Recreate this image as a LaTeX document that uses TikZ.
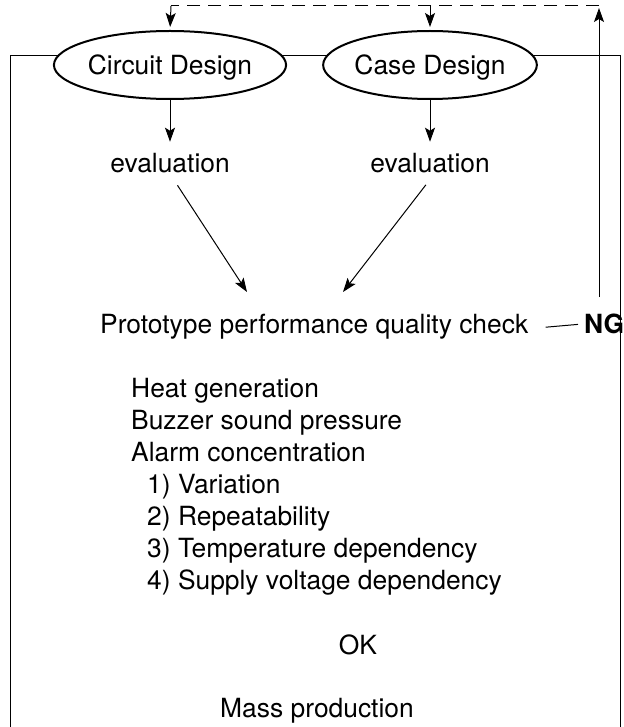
\documentclass[tikz,border=0pt]{standalone}
\usepackage{fontspec}
\setmainfont{TeX Gyre Heros}
\usetikzlibrary{arrows.meta,shapes.geometric}
\begin{document}
\begin{tikzpicture}[x=1pt,y=-1pt,
  every node/.style={font=\fontsize{26.4}{30}\selectfont},
  design/.style={draw,ellipse,line width=2pt,minimum width=204pt,minimum height=68pt,inner sep=0pt,text depth=0pt},
  txt/.style={inner sep=3.33pt},
  arr/.style={line width=1pt,-{Stealth[length=14pt,width=10pt,inset=3pt]}},
  frame/.style={line width=0.9pt},
  fb/.style={line width=1pt}]
\useasboundingbox (0,0) rectangle (623,727);
% frame
\draw[frame] (10,745) -- (10,55) -- (620,55) -- (620,745);
% design ellipses
\node[design,fill=white] (circ) at (170,65) {Circuit Design};
\node[design,fill=white] (case) at (430,65) {Case Design};
% evaluation
\node[txt,anchor=base] (ev1) at (170,173) {evaluation};
\node[txt,anchor=base] (ev2) at (430,173) {evaluation};
\draw[arr,shorten >=8.5pt] (circ.south) -- (ev1.north);
\draw[arr,shorten >=8.5pt] (case.south) -- (ev2.north);
\coordinate (m1) at (247,292);
\coordinate (m2) at (343,292);
\draw[arr,shorten <=10pt] ([xshift=2pt]ev1.south) -- (m1);
\draw[arr,shorten <=10pt] ([xshift=2pt]ev2.south) -- (m2);
% check
\node[txt,anchor=base west,inner sep=0pt] (chk) at (100,333) {Prototype performance quality check};
\node[txt,anchor=base west,inner sep=0pt] (ng) at (584,333) {\bfseries NG};
\draw[fb] ([xshift=17pt,yshift=-1pt]chk.east) -- ([xshift=-6pt,yshift=-1pt]ng.west);
% list
\node[anchor=base west,inner sep=0pt] (l1) at (131,397) {Heat generation};
\node[anchor=base west,inner sep=0pt] (l2) at (131,429) {Buzzer sound pressure};
\node[anchor=base west,inner sep=0pt] (l3) at (131,461) {Alarm concentration};
\node[anchor=base west,inner sep=0pt] (l4) at (147,493) {1) Variation};
\node[anchor=base west,inner sep=0pt] (l5) at (147,525) {2) Repeatability};
\node[anchor=base west,inner sep=0pt] (l6) at (147,557) {3) Temperature dependency};
\node[anchor=base west,inner sep=0pt] (l7) at (147,589) {4) Supply voltage dependency};
\node[anchor=base,inner sep=0pt] (ok) at (358,654) {OK};
\node[anchor=base,inner sep=0pt] (mass) at (317,717) {Mass production};
% feedback loop
\coordinate (ngup) at (599,297);
\coordinate (tipup) at (599,8);
\coordinate (corner) at (599,6);
\coordinate (top1) at (171,6);
\coordinate (top2) at (430,6);
\draw[arr] (ngup) -- (tipup);
\draw[fb,dash pattern=on 13pt off 8pt] (corner) -- (top1);
\draw[arr,shorten >=3pt] (top1) -- (circ.north);
\draw[arr,shorten >=3pt] (top2) -- (case.north);
\end{tikzpicture}
\end{document}
